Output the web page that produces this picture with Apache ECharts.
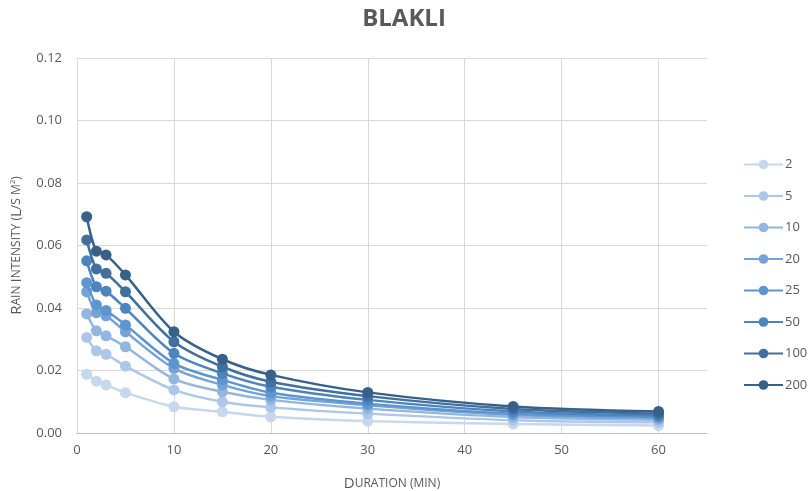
<!DOCTYPE html>
<html>
<head>
<meta charset="utf-8">
<script src="https://cdn.jsdelivr.net/npm/echarts@6/dist/echarts.min.js"></script>
<style>
  html, body { margin: 0; padding: 0; background: #fff; }
  #chart { width: 808px; height: 491px; }
</style>
</head>
<body>
<div id="chart"></div>
<script>
// Storm durations (minutes)
const durations = [1, 2, 3, 5, 10, 15, 20, 30, 45, 60];

// Return periods (years) shown in the legend
const returnPeriods = ['2', '5', '10', '20', '25', '50', '100', '200'];

// Rain intensity (L/s m²) per return period, one value per duration
const rp2   = [0.0188, 0.0166, 0.0154, 0.0129, 0.0084, 0.0068, 0.0052, 0.0038, 0.0029, 0.0024];
const rp5   = [0.0306, 0.0263, 0.0252, 0.0214, 0.0138, 0.0100, 0.0082, 0.0062, 0.0041, 0.0034];
const rp10  = [0.0381, 0.0327, 0.0311, 0.0276, 0.0173, 0.0132, 0.0106, 0.0078, 0.0051, 0.0042];
const rp20  = [0.0452, 0.0385, 0.0375, 0.0324, 0.0207, 0.0154, 0.0118, 0.0089, 0.0058, 0.0048];
const rp25  = [0.0481, 0.0410, 0.0392, 0.0346, 0.0223, 0.0170, 0.0129, 0.0094, 0.0062, 0.0051];
const rp50  = [0.0551, 0.0468, 0.0454, 0.0399, 0.0255, 0.0191, 0.0148, 0.0106, 0.0069, 0.0056];
const rp100 = [0.0618, 0.0525, 0.0511, 0.0452, 0.0292, 0.0212, 0.0164, 0.0118, 0.0077, 0.0062];
const rp200 = [0.0692, 0.0582, 0.0570, 0.0506, 0.0324, 0.0236, 0.0186, 0.0130, 0.0085, 0.0069];

const intensities = [rp2, rp5, rp10, rp20, rp25, rp50, rp100, rp200];
const colors = ['#c6d7ee', '#adc7e8', '#93b6e0', '#73a3d8', '#5d95d0', '#4c84bf', '#41709f', '#376189'];

const textColor = '#595959';
const fontFamily = '"Open Sans", "Liberation Sans", sans-serif';

const series = returnPeriods.map((name, i) => ({
  name: name,
  type: 'line',
  smooth: 0.3,
  symbol: 'circle',
  symbolSize: 11,
  data: durations.map((d, j) => [d, intensities[i][j]]),
  lineStyle: { color: colors[i], width: 2.5 },
  itemStyle: { color: colors[i] },
  emphasis: { disabled: true },
  z: 2 + i
}));

// Small-caps style axis titles: capitals at full size, the rest smaller
const capsRich = {
  b: { fontFamily: fontFamily, fontSize: 15, color: textColor },
  s: { fontFamily: fontFamily, fontSize: 12, color: textColor },
  sup: { fontFamily: fontFamily, fontSize: 8, color: textColor, verticalAlign: 'top', padding: [0, 0, 7, 0] }
};

const chart = echarts.init(document.getElementById('chart'), null, { renderer: 'canvas' });
chart.setOption({
  animation: false,
  backgroundColor: '#ffffff',
  textStyle: { fontFamily: fontFamily, color: textColor },
  title: {
    text: 'BLAKLI',
    left: 'center',
    top: 2,
    textStyle: { fontFamily: fontFamily, fontSize: 24, fontWeight: 'bold', color: textColor }
  },
  legend: {
    orient: 'vertical',
    left: 738,
    top: 153,
    itemWidth: 39,
    itemHeight: 12,
    itemGap: 18.5,
    data: returnPeriods,
    textStyle: { fontFamily: fontFamily, fontSize: 13, lineHeight: 12, color: textColor, padding: [0, 0, 0, -3] }
  },
  grid: { left: 77, right: 101, top: 58, bottom: 58, containLabel: false, outerBoundsMode: 'none' },
  xAxis: {
    type: 'value',
    min: 0,
    max: 65,
    interval: 10,
    name: '{b|D}{s|URATION} {s|(MIN)}',
    nameLocation: 'middle',
    nameGap: 43,
    nameTextStyle: { rich: capsRich },
    axisLine: { show: true, lineStyle: { color: '#bfbfbf', width: 1 } },
    axisTick: { show: false },
    axisLabel: {
      color: textColor,
      fontSize: 13,
      margin: 11,
      showMaxLabel: false,
      formatter: v => (v % 10 === 0 ? String(v) : '')
    },
    splitLine: { show: true, showMaxLine: false, lineStyle: { color: '#d9d9d9', width: 1 } }
  },
  yAxis: {
    type: 'value',
    min: 0,
    max: 0.12,
    interval: 0.02,
    name: '{b|R}{s|AIN} {b|I}{s|NTENSITY} {s|(}{b|L}{s|/S M}{sup|2}{s|)}',
    nameLocation: 'middle',
    nameGap: 53,
    nameTextStyle: { rich: capsRich },
    axisLine: { show: false },
    axisTick: { show: false },
    axisLabel: {
      color: textColor,
      fontSize: 13,
      margin: 15,
      formatter: v => v.toFixed(2)
    },
    splitLine: { show: true, lineStyle: { color: '#d9d9d9', width: 1 } }
  },
  series: series
});
</script>
</body>
</html>
